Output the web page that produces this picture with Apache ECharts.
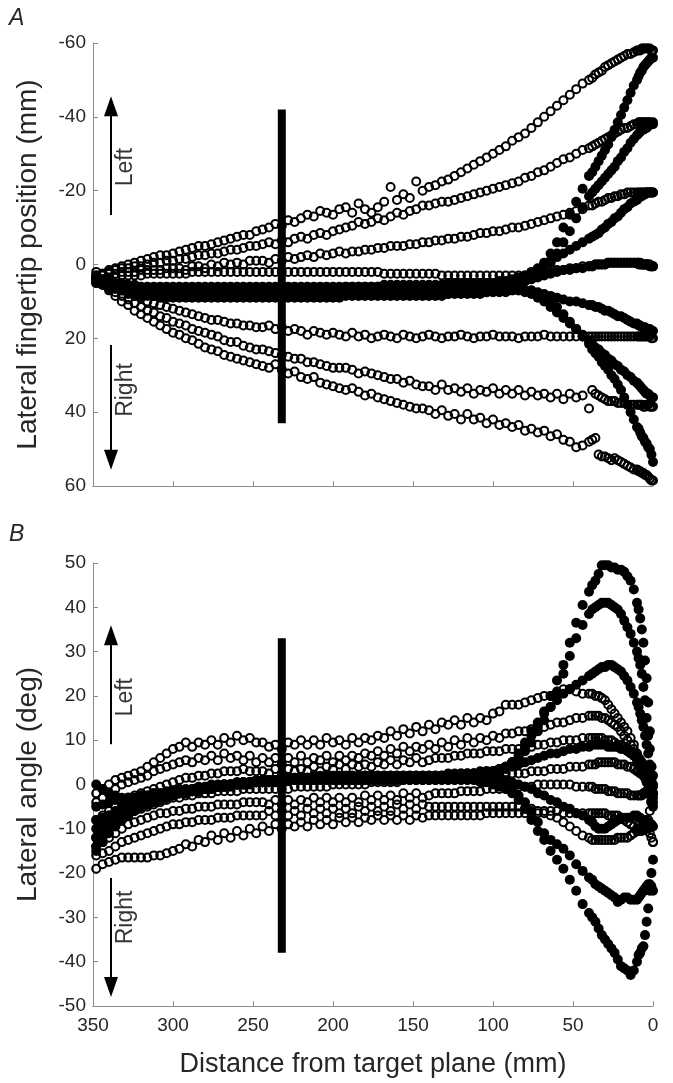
<!DOCTYPE html>
<html><head><meta charset="utf-8">
<script src="https://cdn.jsdelivr.net/npm/echarts@6/dist/echarts.min.js"></script>
<style>html,body{margin:0;padding:0;background:#fff}#c{width:673px;height:1083px}</style>
</head><body><div id="c"></div>
<script>
// distance from target plane (mm) at which samples were read
const xGrid=[348,344,340,336,332,328,324,320,316,312,308,304,300,
296,292,288,284,280,276,272,268,264,260,256,252,248,
244,240,236,232,228,224,220,216,212,208,204,200,196,
192,188,184,180,176,172,168,164,160,156,152,148,144,
140,136,132,128,124,120,116,112,108,104,100,96,92,
88,84,80,76,72,68,64,60,56,52,48,44,40,
38,36,34,32,30,28,26,24,22,20,18,16,14,12,10,
9,8,7,6,5,4,3,2,1,0];

// Panel A: lateral fingertip position (mm), open circles
const posOpen1=[2,2.5,1.5,1,0.5,0,-0.5,-1,-1.5,-2,-2.5,-2.5,-3,
-3.5,-4,-4.5,-5,-5,-5.5,-6,-6.5,-7,-7.5,-8,-8,-9,
-9.5,-10,-11,-10.5,-12,-11.5,-12.5,-13.5,-13,-14.5,-14,-13.5,-15,
-15.5,-14,-16.5,-15,-14,-15.5,-17,-21,-17.5,-19,-18,-22.5,-20,
-21,-21.5,-22.5,-23,-24,-25,-26,-27,-28,-29,-30,-31,-32,
-33.5,-34.5,-35.5,-37,-38.5,-40,-41.5,-43,-44.5,-46,-47.5,-49,-50,
-50.5,-51.5,-52,-52.5,-53.5,-54,-54.5,-55,-55.5,-56,-56.5,-57,-57,-57.5,-58,
-58,-58,-58.5,-58.5,-58.5,-58.5,-58.5,-58.5,-58,-58];
const posOpen2=[3,2.5,2,1.5,1,1,0.5,0.5,0,-0.5,-0.5,-1,-1,
-1.5,-1.5,-2,-2.5,-2.5,-3,-3,-3.5,-4,-4,-4.5,-5,-5,
-5.5,-6,-5.5,-6.5,-6,-7,-7.5,-7,-8,-8.5,-8,-9,-9.5,
-10,-10.5,-11.5,-11,-11.5,-12.5,-12,-13,-14,-13.5,-14.5,-15,-16,
-16,-16.5,-17,-17,-17.5,-18,-18.5,-19,-19.5,-20,-20.5,-21,-21.5,
-22,-22.5,-23.5,-24,-25,-25.5,-26.5,-27.5,-28.5,-29,-30,-31,-31.5,
-32,-32.5,-33,-33.5,-34,-34.5,-35,-35.5,-36,-36.5,-37,-37,-37.5,-38,-38,
-38.5,-38.5,-38.5,-38.5,-38.5,-38.5,-38.5,-38.5,-38,-38];
const posOpen3=[3,3,2.5,2.5,2,2,2,1.5,1.5,1.5,1.5,1,1,
1,1.5,0.5,0.5,1,0,0.5,-0.5,0,-0.5,0,-1,-1,
-1,-0.5,-1.5,-1,-2,-1.5,-2,-2.5,-2,-3,-2.5,-3,-3.5,
-3,-3.5,-3.5,-4,-4,-4.5,-4.5,-5,-5,-5,-5.5,-5.5,-6,
-6,-6.5,-6.5,-7,-7,-7.5,-7.5,-8,-8.5,-8.5,-9,-9,-9.5,
-10,-10,-10.5,-11,-11.5,-12,-12.5,-13,-13.5,-14,-14.5,-15,-16,
-16,-16.5,-17,-17,-17.5,-18,-18,-18.5,-18.5,-19,-19,-19.5,-19.5,-19.5,-19.5,
-19.5,-19.5,-19.5,-19.5,-19.5,-19.5,-19.5,-19.5,-19.5,-19.5];
const posOpen4=[4,4,3.5,3.5,3,3,3,3,2.5,2.5,2.5,2.5,2.5,
2.5,2.5,2,2,2,2,2,2,2,2,2,2,2,
2,2,2,2,2,2,2,2,2,2,2,2,2,
2,2,2,2,2,2,2.5,2.5,2.5,2.5,2.5,2.5,2.5,
2.5,2.5,3,3,3,3,3,3,3,3,3,3,3,
3,3,3,2.5,2.5,2,2,1.5,1.5,1,1,0.5,0.5,
0.5,0,0,0,0,-0.5,-0.5,-0.5,-0.5,-0.5,-0.5,-0.5,-0.5,-0.5,-0.5,
0,0,0,0,0,0,0,0,0.5,0.5];
const posOpen5=[3.5,4.5,5.5,6.5,7,8,8.5,9,10,10.5,11,11.5,12,
12.5,13,13.5,14,14.5,15,15,15.5,16,16,16.5,16.5,17,
17,16.5,17.5,17,18,17.5,18,19,18,18.5,19,18.5,19,
19.5,18.5,19.5,19,20,19.5,19,19.5,20,19,19.5,20,19.5,
19,19.5,20,19.5,19.5,19,19.5,20,19.5,19.5,19,19.5,19.5,
19.5,20,19.5,19.5,19.5,19,19.5,19.5,19.5,19.5,19.5,19.5,19.5,
19.5,19.5,19.5,19.5,19.5,19.5,19.5,19.5,19.5,19.5,19.5,19.5,19.5,19.5,19.5,
19.5,19.5,19.5,19.5,19.5,19.5,19.5,19.5,20,20];
const posOpen6=[4.5,5,6.5,7.5,8.5,9.5,10.5,11.5,12.5,13,14,14.5,15.5,
16,16.5,17.5,18,18.5,19,19.5,20.5,21,21,22,22.5,23,
23,23.5,24,24.5,25,25.5,25.5,26.5,26.5,27,27.5,28,28,
28,28.5,29.5,29,29.5,30,30.5,31,31,32,31.5,32.5,33,
33,34,32.5,34,33.5,34.5,33.5,35,34,34.5,33.5,35,34,
35,34,35.5,34.5,35.5,35,36,35,36.5,35,36,35.5,39,
34,35,35.5,36,36.5,37,37,37,37.5,37.5,37.5,38,38,38,38,
38,38,38,38.5,38.5,38,38,38.5,38.5,38.5];
const posOpen7=[4.5,5.5,7,8.5,10,11,12.5,13.5,14.5,15.5,16.5,17.5,18.5,
19,20,20.5,21.5,22.5,23,23.5,24.5,25,25.5,26,26.5,27,
27.5,28,27,28.5,29.5,29,30.5,31,30.5,32,32.5,33,33.5,
34,33.5,34.5,35.5,35,36,36.5,37,37.5,38,38.5,39,39,
39.5,40.5,39.5,41,40.5,42,40.5,42,41.5,43,42,43.5,43,
44,43.5,45,44.5,45.5,45,46.5,46,47.5,48,49.5,49,48,
47.5,47,51.5,52,52,52.5,53,52.5,53,53.5,54,54.5,55,55.5,55.5,
56,56,56.5,56.5,57,57,57.5,58,58.5,58.5];

// Panel A: filled circles
const posFilled1=[4,4.5,5,5.5,6,6,6.5,6.5,6.5,7,7,7,7,
7,7,7,7,7,7,7,7,7,7,7,7,7,
7,7,7,7,7,7,7,7,7,7,7,7,7,
6.5,6.5,6.5,6.5,6.5,6.5,6.5,6.5,6.5,6.5,6.5,6.5,6.5,
6.5,6.5,6,6,6,6,6,6,6,5.5,5.5,5.5,5,
5,4.5,4,3,1.5,-0.5,-3,-6,-10,-13.5,-17,-20.5,-24,
-25,-26.5,-28,-29.5,-31,-32.5,-34.5,-36.5,-38.5,-40.5,-42.5,-44.5,-46.5,-48.5,-50,
-51,-52,-52.5,-53.5,-54,-54.5,-55,-55.5,-56,-56];
const posFilled2=[5,5.5,6,6.5,7,7.5,7.5,8,8,8,8,8,8,
8,8,8,8,8,8,8,8,8,8,8,8,8,
8,8,8,8,8,8,8,8,8,8,8,8,8,
7.5,7.5,7.5,7.5,7.5,7.5,7.5,7.5,7.5,7.5,7.5,7.5,7.5,
7.5,7.5,7,7,7,7,7,7,6.5,6.5,6.5,6,6,
5.5,5,4.5,4,3,1.5,-0.5,-3,-6,-9,-12.5,-15.5,-18.5,
-19.5,-20.5,-21.5,-22.5,-23.5,-24.5,-25.5,-26.5,-28,-29,-30.5,-31.5,-33,-34,-35,
-35.5,-36,-36.5,-36.5,-37,-37,-37.5,-38,-38,-38.5];
const posFilled3=[3.5,4,4.5,5,5,5.5,5.5,6,6,6,6,6,6,
6,6,6,6,6,6,6,6,6,6,6,6,6,
6,6,6,6,6,6,6,6,6,6,6,6,6,
6,6,6,6,6,6,5.5,5.5,5.5,5.5,5.5,5.5,5.5,
5.5,5.5,5.5,5,5,5,5,5,5,5,5,4.5,4.5,
4,3.5,3,2,1,0,-1,-2,-3,-4,-5,-6,-7,
-7.5,-8,-8.5,-9.5,-10,-11,-11.5,-12.5,-13,-14,-15,-15.5,-16.5,-17,-17.5,
-18,-18.5,-18.5,-19,-19,-19.5,-19.5,-19.5,-19.5,-19.5];
const posFilled4=[4,4.5,5,5.5,6,6,6.5,6.5,6.5,6.5,6.5,6.5,6.5,
6.5,6.5,6.5,6.5,6.5,6.5,6.5,6.5,6.5,6.5,6.5,6.5,6.5,
6.5,6.5,6.5,6.5,6.5,6.5,6.5,6.5,6.5,6.5,6.5,6.5,6.5,
6,6,6,6,6,6,6,6,6,6,6,6,6,
6,6,6,6,6,5.5,5.5,5.5,5.5,5.5,5,5,5,
5,4.5,4.5,4,3.5,3,2.5,2,1.5,1.5,1,1,0.5,
0.5,0,0,0,0,-0.5,-0.5,-0.5,-0.5,-0.5,-0.5,-0.5,-0.5,-0.5,-0.5,
-0.5,-0.5,0,0,0,0,0,0.5,0.5,0.5];
const posFilled5=[4.5,5,5.5,6,6.5,7,7,7.5,7.5,7.5,7.5,7.5,7.5,
7.5,7.5,7.5,7.5,7.5,7.5,7.5,7.5,7.5,7.5,7.5,7.5,7.5,
7.5,7.5,7.5,7.5,7.5,7.5,7.5,7.5,7.5,7.5,7.5,7.5,7.5,
7,7,7,7,7,7,7,7,7,7,7,7,7,
7,7,7,7,7,7,6.5,6.5,6.5,6.5,6.5,6.5,6.5,
6.5,6.5,7,7,7.5,8,8.5,9,9.5,10,10,10.5,11,
11,11.5,11.5,12,12.5,12.5,13,13.5,14,14,14.5,15,15.5,16,16,
16.5,16.5,17,17,17,17.5,17.5,17.5,18,18];
const posFilled6=[5,5.5,6,6.5,7,7.5,8,8,8,8.5,8.5,8.5,8.5,
8.5,8.5,8.5,8.5,8.5,8.5,8.5,8.5,8.5,8.5,8.5,8.5,8.5,
8.5,8.5,8.5,8.5,8.5,8.5,8.5,8.5,8.5,8.5,8.5,8.5,8.5,
8,8,8,8,8,8,8,8,8,8,8,8,8,
8,8,8,8,7.5,7.5,7.5,7.5,7.5,7.5,7,7,7,
7,7,7.5,8,9,10,11.5,13,14.5,16,17.5,19,20.5,
21.5,22.5,23,24,24.5,25.5,26,27,27.5,28.5,29,30,30.5,31.5,32,
32.5,33,33.5,34,34.5,35,35,35.5,36,36];
const posFilled7=[4,5,6,6.5,7,7.5,8,8.5,8.5,8.5,9,9,9,
9,9,9,9,9,9,9,9,9,9,9,9,9,
9,9,9,9,9,9,9,9,9,9,9,9,9,
8.5,8.5,8.5,8.5,8.5,8.5,8.5,8.5,8.5,8.5,8.5,8.5,8.5,
8.5,8.5,8.5,8,8,8,8,8,8,7.5,7.5,7.5,7.5,
7,7,7,7.5,8,9,10,11.5,13.5,15.5,17.5,19.5,21.5,
23,24,25,26.5,27.5,28.5,30,31,32.5,34,36,38,40,42,44,
44.5,45.5,46.5,47,48,48.5,49.5,50,51.5,53.5];

// Panel B: lateral angle (deg), open circles
const angOpen1=[-2,-1,0,1,1.5,2,2.5,3,4,5,6,7,8,
8.5,9.5,8.5,9.5,9,10,9,10.5,9.5,11,10,10.5,9.5,
9.5,8.5,9,8,9.5,9,10,9,10,9,10.5,9.5,10,
9,10.5,9.5,10.5,10,11,10.5,12,11,12.5,11.5,13,12,
13.5,12.5,14,13.5,14.5,13.5,15,14,15,14.5,16,16.5,18,
18,18,18.5,19,19.5,20,20,20.5,21.5,21.5,21,20.5,20.5,
20.5,20,20,19.5,19,18,17,16,15,14,13,12,10.5,9,6.5,
5.5,4.5,4,3.5,3,2,1.5,1,-4,-13];
const angOpen2=[-4,-3,-2,-1,0,0.5,1,1.5,2,3,3.5,4,4.5,
5,5.5,5,6,5.5,6.5,5.5,7,6,6.5,5.5,6.5,5,
6,5,6,4.5,6,5,6.5,5,6,5.5,6.5,5,6.5,
5.5,6.5,6,7,6.5,7.5,6.5,8,7,8.5,7.5,8.5,8,
9,8,9.5,8.5,10,9,10.5,9.5,10.5,10,11,10.5,11.5,
11.5,12,12,12.5,13,13,13.5,14,14,14.5,15,15,15.5,
15.5,15.5,15.5,15,15,14.5,14,13.5,13,12,11,10,9,8,7,
6,5,4,3.5,2.5,1.5,1,0,-1,-2];
const angOpen3=[-8,-7,-6,-5,-4,-3,-2.5,-2,-1.5,-1,-0.5,0,0.5,
1,1.5,1.5,2,2,2.5,2.5,3,3,3,3.5,3,3,
3,2.5,3.5,2.5,3.5,3,3.5,3,4,3,4,3.5,4.5,
3.5,4.5,4,4.5,4,5,4.5,5.5,4.5,5.5,5,6,5,
5.5,6,6,6,6.5,6.5,7,7,7,7.5,7.5,7.5,8,
8,8,8.5,8.5,9,9,9.5,9.5,10,10,10,10.5,10.5,
10.5,10.5,10.5,10.5,10,10,10,9.5,9,9,8.5,8,7.5,7,6.5,
6,5.5,5,4.5,4,3.5,3,2,1,0];
const angOpen4=[-12,-11,-10,-9,-8,-7,-6,-5.5,-5,-4.5,-4,-3.5,-3,
-3,-2.5,-2.5,-2,-2,-2,-1.5,-1.5,-1.5,-1.5,-1,-1,-1,
-1,-1,-1,-1,-1,-0.5,-0.5,-0.5,-0.5,-0.5,-0.5,0,0,
0,0,0,0,0.5,0.5,0.5,0.5,0.5,1,1,1,1,
1,1,1.5,1.5,1.5,1.5,2,2,2,2,2,2.5,2.5,
2.5,2.5,2.5,3,3,3,3.5,3.5,3.5,4,4,4,4.5,
4.5,4.5,5,5,5,5,5,5,4.5,4.5,4.5,4,4,3.5,3,
3,2.5,2.5,2,2,1.5,1,0.5,0,-0.5];
const angOpen5=[-14,-13,-12,-11,-10,-9,-8.5,-8,-7.5,-7,-6.5,-6.5,-6,
-6,-5.5,-5.5,-5,-5,-5,-4.5,-4.5,-4.5,-4.5,-4,-4,-4,
-4,-4.5,-3.5,-4.5,-3.5,-4.5,-3.5,-4,-3,-4,-3,-4,-3,
-4,-3,-4,-2.5,-3.5,-2.5,-3.5,-2.5,-3.5,-2,-3,-2,-3,
-2.5,-2,-2,-2,-2,-1.5,-1.5,-1.5,-1.5,-1,-1,-1,-1,
-1,-0.5,-0.5,-0.5,0,0,0,0,0,0,-0.5,-0.5,-0.5,
-0.5,-1,-1,-1,-1,-1.5,-1.5,-1.5,-2,-2,-2,-2,-2.5,-2.5,-2.5,
-2.5,-2.5,-2.5,-2,-2,-1.5,-1.5,-1,-1.5,-3];
const angOpen6=[-16,-15.5,-15,-14,-13,-12.5,-12,-11.5,-11,-10.5,-10,-9.5,-9,
-9,-8.5,-8.5,-8,-8,-8,-7.5,-7.5,-7.5,-7,-7,-7,-7,
-7,-6,-7,-6,-7,-6,-7,-5.5,-6.5,-5.5,-6.5,-5.5,-6.5,
-5.5,-6.5,-5,-6,-5,-6,-5,-6,-4.5,-5.5,-4.5,-5.5,-4.5,
-5,-5,-5,-5,-5,-5,-5,-5,-5,-5,-5,-5,-5,
-5,-5,-5.5,-5.5,-6,-6.5,-7,-7.5,-8.5,-9.5,-10.5,-11.5,-12,
-12.5,-12.5,-12.5,-12.5,-12.5,-12.5,-12.5,-12.5,-12,-12,-12,-12,-11.5,-11,-10.5,
-10.5,-10.5,-10.5,-10,-10,-10,-10,-11,-12,-13];
const angOpen7=[-19,-18,-17.5,-17,-16.5,-16.5,-16.5,-16.5,-16.5,-16,-16,-15.5,-15,
-14.5,-13.5,-14,-12.5,-13,-11.5,-12.5,-11,-12,-10.5,-11.5,-10,-11,
-9.5,-10.5,-9,-10,-9,-9.5,-8.5,-9.5,-8,-9,-8,-9,-7.5,
-8.5,-7.5,-8.5,-7.5,-8,-7,-8,-7,-8,-7,-8,-7,-7.5,
-7,-7,-7,-7,-7,-7,-7,-7,-7,-6.5,-6.5,-6.5,-6.5,
-6.5,-6.5,-6.5,-6.5,-6.5,-6,-6,-6,-6.5,-6.5,-6.5,-6.5,-6.5,
-6.5,-6.5,-6.5,-6.5,-6.5,-7,-7,-7,-7,-7.5,-8,-8.5,-9,-9.5,-10,
-10,-10,-10,-9.5,-9.5,-9,-8,-6,-4,-2];

// Panel B: filled circles
const angFilled1=[-15,-13,-11,-9.5,-8,-7,-6,-5,-4.5,-4,-3.5,-3,-2.5,
-2,-2,-1.5,-1.5,-1,-1,-0.5,-0.5,0,0,0,0.5,0.5,
0.5,0.5,1,1,1,1,1,1.5,1.5,1.5,1.5,1.5,1.5,
1.5,2,2,2,2,2,2,2,2,2,2,2,2,
2,2,2,2,2,2,2.5,2.5,2.5,2.5,3,3.5,4,
5,6.5,8.5,11,13.5,16.5,20,23.5,27,32,36.5,40.5,43.5,
45,46,47.5,49.5,49.5,49.5,49,49,48.5,48.5,48,47,46,44,41,
39.5,37.5,35,32,28,24,18.5,12,4,-4];
const angFilled2=[-12,-10.5,-9,-8,-7,-6,-5.5,-5,-4.5,-4,-3.5,-3,-2.5,
-2,-2,-1.5,-1,-1,-0.5,-0.5,0,0,0,0.5,0.5,0.5,
1,1,1,1,1,1.5,1.5,1.5,1.5,1.5,1.5,1.5,2,
2,2,2,2,2,2,2,2,2,2,2,2,2,
2,2,2,2,2,2.5,2.5,2.5,2.5,3,3,3.5,4,
5,6,7.5,9.5,12,14.5,17.5,21,25,29,33,36,38.5,
39.5,40,40.5,41,41,41,40.5,40,39.5,38.5,37,35.5,34,32,30,
28.5,27,25,22,19,15,11,8,4,2];
const angFilled3=[-14,-12,-10,-8.5,-7.5,-6.5,-5.5,-5,-4.5,-4,-3.5,-3,-2.5,
-2,-1.5,-1.5,-1,-1,-0.5,-0.5,0,0,0.5,0.5,0.5,1,
1,1,1,1.5,1.5,1.5,1.5,1.5,2,2,2,2,2,
2,2,2,2,2,2,2,2,2,2,2,2,2,
2,2,2,2.5,2.5,2.5,2.5,2.5,3,3,3,3.5,4,
5,7,9.5,12,14,16,17.5,19,20.5,21.5,22.5,23.5,24.5,
25,25.5,26,26.5,26.5,27,27,26.5,26,25.5,24.5,23.5,22,20.5,18.5,
17.5,16,14.5,13,11,9,7,4.5,1.5,-2];
const angFilled4=[-8,-7.5,-7,-6.5,-6,-5.5,-5,-4.5,-4,-3.5,-3,-2.5,-2,
-2,-1.5,-1.5,-1,-1,-0.5,-0.5,0,0,0,0.5,0.5,0.5,
0.5,1,1,1,1,1,1,1,1.5,1.5,1.5,1.5,1.5,
1.5,1.5,1.5,2,2,2,2,2,2,2,2,2,2,
2,2,2,2,2,2,2,2.5,2.5,2.5,3,3,3.5,
4,4.5,5,5.5,6,6.5,7,7,7.5,8,8,8.5,8.5,
9,9,9,9,9,8.5,8.5,8.5,8.5,8,8,7.5,7,6.5,5.5,
5,4,3.5,2.5,1.5,0.5,-1,-2,-3.5,-5];
const angFilled5=[-5,-4.5,-4,-3.5,-3.5,-3,-3,-2.5,-2.5,-2,-2,-1.5,-1.5,
-1,-1,-1,-0.5,-0.5,0,0,0,0,0.5,0.5,0.5,0.5,
0.5,1,1,1,1,1,1,1,1,1.5,1.5,1.5,1.5,
1.5,1.5,1.5,1.5,1.5,1.5,1.5,1.5,1.5,1.5,1.5,1.5,1.5,
1.5,1.5,1.5,1.5,1.5,1.5,1.5,1.5,1.5,1.5,1.5,1,1,
0.5,0,-0.5,-1,-2,-2.5,-3.5,-4,-5,-5.5,-6.5,-7,-8,
-8.5,-9.5,-10,-10,-10,-9.5,-9,-8.5,-8,-7.5,-7.5,-7.5,-7.5,-7,-7,
-7.5,-7.5,-8,-8,-8,-8.5,-8.5,-9,-9,-9.5];
const angFilled6=[0,-1,-2,-2.5,-3,-3,-3,-2.5,-2.5,-2,-2,-2,-1.5,
-1.5,-1.5,-1,-1,-1,-0.5,-0.5,-0.5,0,0,0,0.5,0.5,
0.5,0.5,0.5,1,1,1,1,1,1,1,1,1,1,
1,1,1,1,1,1,1,1,1,1,1,1,1,
1,1,1,1,1,1,1,1,1,0.5,0.5,0,-0.5,
-1.5,-2.5,-4,-6,-8.5,-11,-12.5,-13.5,-14.5,-16,-18,-19.5,-21,
-21.5,-22.5,-23,-23.5,-24,-24.5,-25,-25.5,-26.5,-26,-25.5,-25.5,-26,-26,-26,
-25.5,-25,-24.5,-24,-23.5,-23,-22.5,-22.5,-23,-24];
const angFilled7=[-10,-8.5,-7,-6,-5,-4.5,-4,-3.5,-3,-3,-2.5,-2.5,-2,
-2,-1.5,-1.5,-1,-1,-1,-0.5,-0.5,-0.5,0,0,0,0.5,
0.5,0.5,0.5,0.5,1,1,1,1,1,1,1,1,1,
1,1,1,1,1,1,1,1,1,1,1,1,1,
1,1,1,1,1,1,1,1,0.5,0.5,0,-0.5,-1,
-2,-3.5,-5.5,-8,-10.5,-12.5,-15,-17,-19,-21.5,-24,-27,-29,
-30,-31,-32.5,-34,-35,-36,-37,-38,-39.5,-41,-41.5,-42,-43,-42,-40,
-38.5,-38,-37,-36.5,-34,-31,-28,-24,-20,-17];

// vertical bar (distance, extent) and annotation arrows
const barX=232;
const barA=[-42,43];
const barB=[-38,33];
const arrowX=338.75;
const arrowsA=[[-13.4,-42.9],[21.8,52.9]];
const arrowsB=[[9.1,33.7],[-21.1,-45.7]];
const labelX=329.4;
const labelsA=[['Left',-26.4],['Right',34]];
const labelsB=[['Left',19.7],['Right',-30]];

const FONT='"Liberation Sans", Arial, Helvetica, sans-serif';
const TXT='#262626', AX='#8a8a8a';

function pts(ys){return xGrid.map((x,i)=>[x,ys[i]]);}
function openS(ys,g){return {type:'scatter',xAxisIndex:g,yAxisIndex:g,data:pts(ys),symbol:'circle',symbolSize:8,
  itemStyle:{color:'rgba(255,255,255,0)',borderColor:'#000',borderWidth:2,opacity:1},silent:true,z:2};}
function fillS(ys,g){return {type:'scatter',xAxisIndex:g,yAxisIndex:g,data:pts(ys),symbol:'circle',symbolSize:10,
  itemStyle:{color:'#000',opacity:1},silent:true,z:3};}
function barS(ext,arrows,labels,g){
  return [{type:'line',xAxisIndex:g,yAxisIndex:g,data:[[barX,ext[0]],[barX,ext[1]]],symbol:'none',
    lineStyle:{color:'#000',width:8,cap:'butt'},silent:true,z:5,
    markLine:{silent:true,animation:false,label:{show:false},lineStyle:{color:'#000',width:2,type:'solid'},
      data:arrows.map(a=>[{coord:[arrowX,a[0]],symbol:'none'},{coord:[arrowX,a[1]],symbol:'triangle',symbolSize:[14,20]}])}},
   {type:'scatter',xAxisIndex:g,yAxisIndex:g,symbolSize:1,itemStyle:{color:'rgba(0,0,0,0)'},silent:true,z:6,
    data:labels.map(l=>({name:l[0],value:[labelX,l[1]]})),
    label:{show:true,position:'inside',rotate:90,formatter:'{b}',fontSize:23,fontFamily:FONT,color:'#000'}}];
}
function xAx(g,show){return {gridIndex:g,type:'value',min:0,max:350,interval:50,inverse:true,
  axisLine:{show:true,onZero:false,lineStyle:{color:AX,width:1}},
  axisTick:{show:true,inside:true,length:5,lineStyle:{color:AX}},
  axisLabel:{show:show,color:TXT,fontSize:19,fontFamily:FONT,margin:10,showMinLabel:true,showMaxLabel:true},
  splitLine:{show:false},
  name:show?'Distance from target plane (mm)':'',nameLocation:'middle',nameGap:45,
  nameTextStyle:{color:TXT,fontSize:27,fontFamily:FONT}};}
function yAx(g,min,max,interval,inv,name){return {gridIndex:g,type:'value',min:min,max:max,interval:interval,inverse:inv,
  axisLine:{show:true,onZero:false,lineStyle:{color:AX,width:1}},
  axisTick:{show:true,inside:true,length:5,lineStyle:{color:AX}},
  axisLabel:{color:TXT,fontSize:19,fontFamily:FONT,margin:7,showMinLabel:true,showMaxLabel:true},
  splitLine:{show:false},
  name:name,nameLocation:'middle',nameGap:51,
  nameTextStyle:{color:TXT,fontSize:28,fontFamily:FONT}};}

const series=[];
[posOpen1,posOpen2,posOpen3,posOpen4,posOpen5,posOpen6,posOpen7].forEach(s=>series.push(openS(s,0)));
[posFilled1,posFilled2,posFilled3,posFilled4,posFilled5,posFilled6,posFilled7].forEach(s=>series.push(fillS(s,0)));
[angOpen1,angOpen2,angOpen3,angOpen4,angOpen5,angOpen6,angOpen7].forEach(s=>series.push(openS(s,1)));
[angFilled1,angFilled2,angFilled3,angFilled4,angFilled5,angFilled6,angFilled7].forEach(s=>series.push(fillS(s,1)));
series.push(...barS(barA,arrowsA,labelsA,0));
series.push(...barS(barB,arrowsB,labelsB,1));

const chart=echarts.init(document.getElementById('c'),null,{renderer:'canvas'});
chart.setOption({
  animation:false,
  backgroundColor:'#fff',
  grid:[{left:93,top:43,width:560,height:443},{left:93,top:563,width:560,height:443}],
  xAxis:[xAx(0,false),xAx(1,true)],
  yAxis:[yAx(0,-60,60,20,true,'Lateral fingertip position (mm)'),yAx(1,-50,50,10,false,'Lateral angle (deg)')],
  graphic:[
    {type:'text',left:9,top:7,style:{text:'A',font:'italic 23px '+FONT,fill:TXT}},
    {type:'text',left:9,top:523,style:{text:'B',font:'italic 23px '+FONT,fill:TXT}}
  ],
  series:series
});
</script></body></html>
